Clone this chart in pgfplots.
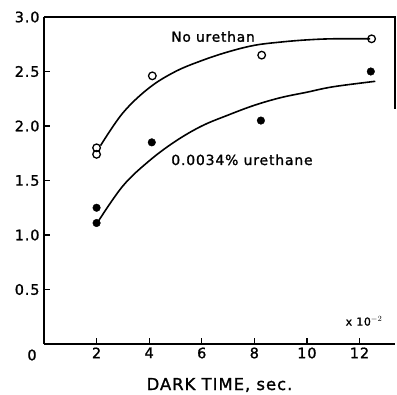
\documentclass[border=0pt]{standalone}
\usepackage{fontspec}
\setmainfont[LetterSpace=6, FakeBold=1.2]{DejaVu Sans}
\usepackage{pgfplots}
\pgfplotsset{compat=1.18}

\begin{document}
\begin{tikzpicture}
\useasboundingbox (-44bp,-51bp) rectangle (353bp,344bp);
\begin{axis}[
  scale only axis, width=351bp, height=327bp,
  xmin=0, xmax=13.35, ymin=0, ymax=3,
  axis lines=left, axis line style={line width=1.3bp, -},
  xtick={2,4,...,12}, ytick={0.5,1,...,3},
  tick align=inside, major tick length=6bp,
  tick style={line width=1.2bp, black},
  yticklabel style={/pgf/number format/fixed, /pgf/number format/fixed zerofill,
    /pgf/number format/precision=1},
  /pgf/number format/assume math mode=true,
  ticklabel style={font=\fontsize{14.5}{16}\selectfont},
  yticklabel style={xshift=-1bp},
  xlabel={DARK TIME, sec.},
  xlabel style={font=\fontsize{16.5}{19}\selectfont, at={(rel axis cs:0.5,0)},
    anchor=base, yshift=-46bp},
  clip=false,
]
% smooth curves drawn through the figure
\addplot[line width=1.6bp, smooth, tension=0.6] coordinates {
  (2.15,1.82) (3,2.12) (4,2.35) (5,2.50) (6,2.60) (7,2.68) (8,2.74)
  (9,2.77) (10,2.79) (11,2.80) (12.4,2.80)
};
\addplot[line width=1.6bp, smooth, tension=0.6] coordinates {
  (2.05,1.12) (3,1.45) (4,1.68) (5,1.86) (6,2.00) (7,2.10) (8,2.19)
  (9,2.26) (10,2.31) (11,2.36) (12.6,2.41)
};
% no urethan
\addplot[only marks, mark=o, mark size=3.8bp, mark options={line width=1.3bp, fill=white}] coordinates {
  (2,1.80) (2,1.74) (4.12,2.46) (8.28,2.65) (12.46,2.80)
};
% 0.0034% urethane
\addplot[only marks, mark=*, mark size=3.8bp] coordinates {
  (2,1.25) (2,1.11) (4.1,1.85) (8.25,2.05) (12.43,2.50)
};
\draw[line width=1.2bp] (rel axis cs:0,1) -- (rel axis cs:1,1) -- (rel axis cs:1,0.72);
\node[font=\fontsize{13.8}{16}\selectfont] at (axis cs:6.43,2.82) {No urethan};
\node[font=\fontsize{14}{16}\selectfont] at (axis cs:7.53,1.69) {0.0034\% urethane};
\node[font=\fontsize{11}{13}\selectfont] at (axis cs:12.17,0.21) {x 10$^{-2}$};
\node[font=\fontsize{14.5}{16}\selectfont] at ([xshift=-12bp,yshift=-11bp]rel axis cs:0,0) {0};
\end{axis}
\end{tikzpicture}
\end{document}
